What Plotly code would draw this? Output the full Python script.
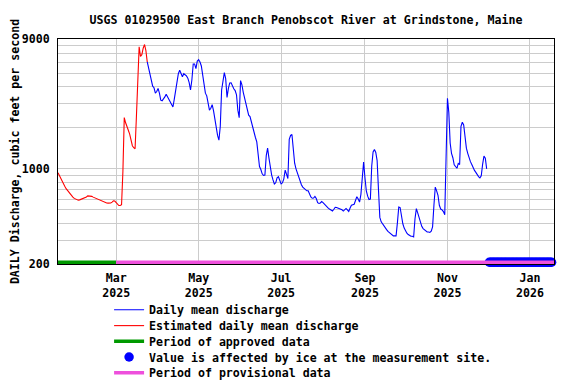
import math
import pandas as pd
import plotly.graph_objects as go

# ---------------- data ----------------
title_text = "USGS 01029500 East Branch Penobscot River at Grindstone, Maine"
y_title = "DAILY Discharge, cubic feet per second"

start_date = "2025-01-17"        # first daily value
estimated_end = "2025-03-24"     # last estimated (red) daily value

discharge_cfs = [
    936, 890, 855, 815, 780, 745, 715, 692, 672, 652,
    636, 620, 607, 600, 593, 589, 592, 598, 602, 605,
    610, 622, 633, 634, 632, 628, 620, 614, 607, 600,
    594, 586, 579, 573, 566, 562, 561, 560, 560, 562,
    570, 582, 580, 568, 552, 538, 538, 545, 960, 2380,
    2180, 2070, 1920, 1800, 1600, 1480, 1430, 1405, 2440, 4800,
    7900, 6700, 6900, 7700, 8200, 7400, 6100, 5500, 5100, 4400,
    4050, 3945, 3600, 3700, 3900, 3600, 3200, 3160, 3250, 3380,
    3540, 3400, 3230, 3100, 2960, 2850, 3250, 3850, 4400, 5000,
    5300, 4950, 4750, 5000, 4930, 4820, 4640, 4300, 3800, 4500,
    5900, 5900, 5450, 6200, 6350, 6100, 5700, 4850, 4100, 3600,
    3440, 3100, 2700, 2790, 2960, 2680, 2340, 1970, 1760, 1627,
    2050, 3800, 4500, 5100, 4600, 3350, 3900, 4280, 4294, 4000,
    3880, 3760, 3500, 2700, 2375, 4450, 4150, 3650, 3300, 3000,
    2680, 2480, 2420, 2200, 1980, 1860, 1700, 1580, 1250, 1040,
    990, 920, 894, 900, 1250, 1420, 1200, 1000, 900, 830,
    775, 790, 860, 875, 830, 775, 790, 845, 980, 910,
    850, 1650, 1760, 1790, 1400, 1100, 1000, 930, 865, 800,
    765, 735, 722, 705, 690, 690, 650, 622, 608, 610,
    628, 605, 565, 557, 562, 575, 565, 550, 542, 528,
    512, 505, 495, 490, 505, 522, 520, 515, 510, 508,
    500, 490, 503, 512, 500, 487, 515, 540, 545, 550,
    585, 625, 600, 570, 650, 900, 1120, 860, 690, 630,
    595, 600, 1050, 1330, 1390, 1320, 1150, 700, 440, 408,
    393, 382, 372, 358, 347, 340, 332, 324, 322, 322,
    322, 403, 525, 520, 440, 395, 367, 348, 337, 329,
    324, 320, 320, 316, 430, 510, 475, 436, 403, 378,
    364, 357, 349, 344, 344, 341, 348, 375, 540, 735,
    690, 640, 540, 507, 500, 485, 460, 1250, 3300, 2600,
    1550, 1300, 1207, 1070, 1030, 1010, 1096, 1077, 2050, 2200,
    2100, 1620, 1420, 1300, 1200, 1130, 1075, 1015, 975, 943,
    905, 878, 860, 890, 1080, 1240, 1200, 1000,
]

approved_period = ["2025-01-17", "2025-03-01"]
provisional_period = ["2025-03-01", "2026-01-18 19:00"]
ice_period = ["2025-12-02", "2026-01-17"]

x_range = ["2025-01-17", "2026-01-18 19:00"]
x_tick_dates = ["2025-03-01", "2025-05-01", "2025-07-01",
                "2025-09-01", "2025-11-01", "2026-01-01"]
x_tick_labels = ["Mar<br>2025", "May<br>2025", "Jul<br>2025",
                 "Sep<br>2025", "Nov<br>2025", "Jan<br>2026"]
y_grid_values = [200, 300, 400, 500, 600, 700, 800, 900,
                 1000, 2000, 3000, 4000, 5000, 6000, 7000, 8000, 9000]
y_labelled = [200, 1000, 9000]
y_range_values = [200, 9000]

# ---------------- styling ----------------
FONT = dict(family="DejaVu Sans Mono", size=11.6, color="black", weight="bold")
BAR_LEVEL = 206          # indicator bars sit on the bottom of the axis
GRID = "#cccccc"
C_DAILY = "#0000ff"
C_EST = "#ff0000"
C_APPROVED = "#009900"
C_PROV = "#ee50dc"
C_ICE = "#0000ff"

dates = pd.date_range(start_date, periods=len(discharge_cfs), freq="D")
series = pd.Series(discharge_cfs, index=dates)
est = series[:estimated_end]
daily = series[estimated_end:]
ice_dates = pd.date_range(ice_period[0], ice_period[1], freq="D")

fig = go.Figure()

fig.add_trace(go.Scatter(
    x=daily.index, y=daily.values, mode="lines", name="Daily mean discharge",
    line=dict(color=C_DAILY, width=1.1), legend="legend"))
fig.add_trace(go.Scatter(
    x=est.index, y=est.values, mode="lines", name="Estimated daily mean discharge",
    line=dict(color=C_EST, width=1.1), legend="legend2"))
fig.add_trace(go.Scatter(
    x=ice_dates, y=[BAR_LEVEL] * len(ice_dates), mode="markers",
    name="Value is affected by ice at the measurement site.",
    marker=dict(color=C_ICE, size=9.5, line=dict(width=0)),
    cliponaxis=False, legend="legend4"))
fig.add_trace(go.Scatter(
    x=approved_period, y=[BAR_LEVEL] * 2, mode="lines",
    name="Period of approved data",
    line=dict(color=C_APPROVED, width=3.5), legend="legend3"))
fig.add_trace(go.Scatter(
    x=provisional_period, y=[BAR_LEVEL] * 2, mode="lines",
    name="Period of provisional data",
    line=dict(color=C_PROV, width=3.5), legend="legend5"))

# one legend per row so the rows keep the reference's 16px spacing
LEGEND_X = 0.103
LEGEND_TOPS = [-0.139, -0.2094, -0.2789, -0.3489, -0.4189]


def legend_box(y):
    return dict(x=LEGEND_X, xanchor="left", y=y, yanchor="top",
                font=FONT, bgcolor="rgba(0,0,0,0)", itemwidth=30)


# the page adds an 8px body margin, so the figure is laid out 8px up/left
fig.update_layout(
    width=576, height=384,
    margin=dict(l=50, r=30, t=31, b=128, autoexpand=False),
    paper_bgcolor="white", plot_bgcolor="white",
    font=FONT,
    title=dict(text=title_text, x=0.5, xref="paper", xanchor="center",
               y=1 - 12 / 384, yref="container", yanchor="middle",
               font=FONT),
    showlegend=True,
    legend=legend_box(LEGEND_TOPS[0]),
    legend2=legend_box(LEGEND_TOPS[1]),
    legend3=legend_box(LEGEND_TOPS[2]),
    legend4=legend_box(LEGEND_TOPS[3]),
    legend5=legend_box(LEGEND_TOPS[4]),
)

fig.update_xaxes(
    type="date", range=x_range, automargin=False,
    tickmode="array", tickvals=x_tick_dates, ticktext=x_tick_labels,
    showgrid=True, gridcolor=GRID, gridwidth=1,
    showline=True, linecolor="black", linewidth=1, mirror=True,
    ticks="", tickfont=FONT, zeroline=False, ticklabelstandoff=3,
)
fig.update_yaxes(
    type="log", range=[math.log10(v) for v in y_range_values], automargin=False,
    tickmode="array", tickvals=y_grid_values,
    ticktext=[str(v) if v in y_labelled else "" for v in y_grid_values],
    showgrid=True, gridcolor=GRID, gridwidth=1,
    showline=True, linecolor="black", linewidth=1, mirror=True,
    ticks="", tickfont=FONT, zeroline=False, ticklabelstandoff=5,
    title=dict(text=y_title, font=FONT, standoff=14),
)

fig.write_html("out.html")
